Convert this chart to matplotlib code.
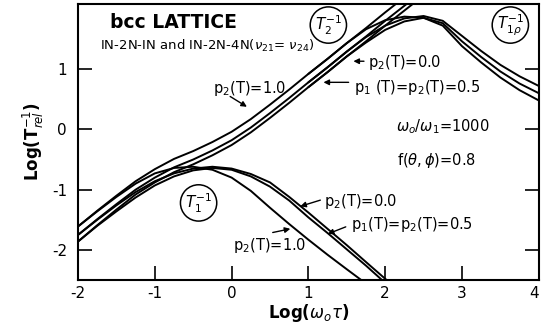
import numpy as np
import matplotlib
matplotlib.use("Agg")
import matplotlib.pyplot as plt

plt.rcParams["font.family"] = ["DejaVu Sans"]
plt.rcParams["axes.unicode_minus"] = False

# --------------------------------------------------
# Relaxation rates, log10 scale
# --------------------------------------------------

# T2^-1 branch (also T1rho^-1 at low omega*tau)
t2_x_p10 = [-2.0, -1.75, -1.5, -1.25, -1.0, -0.75, -0.5, -0.25, 0.0, 0.25,
            0.5, 0.75, 1.0, 1.25, 1.5, 1.75, 2.0, 2.2]
t2_y_p10 = [-1.61, -1.35, -1.1, -0.86, -0.66, -0.49, -0.36, -0.21, -0.04, 0.17,
            0.41, 0.66, 0.92, 1.17, 1.43, 1.68, 1.94, 2.14]

t2_x_p00 = [-2.0, -1.75, -1.5, -1.25, -1.0, -0.75, -0.5, -0.25, 0.0, 0.25,
            0.5, 0.75, 1.0, 1.25, 1.5, 1.75, 2.0, 2.35]
t2_y_p00 = [-1.75, -1.49, -1.24, -1.0, -0.8, -0.63, -0.5, -0.35, -0.18, 0.03,
            0.27, 0.52, 0.78, 1.03, 1.29, 1.54, 1.8, 2.15]

t2_x_p05 = [-2.0, -1.75, -1.5, -1.25, -1.0, -0.75, -0.5, -0.25, 0.0, 0.25,
            0.5, 0.75, 1.0, 1.25, 1.5, 1.75, 2.0, 2.45]
t2_y_p05 = [-1.86, -1.59, -1.33, -1.08, -0.88, -0.71, -0.58, -0.43, -0.26, -0.05,
            0.19, 0.44, 0.7, 0.95, 1.21, 1.46, 1.72, 2.17]

# T1rho^-1 branch, leaves T2 near log(w tau) = 1.5
t1r_x = [1.0, 1.25, 1.5, 1.75, 2.0, 2.25, 2.5, 2.75, 3.0, 3.25, 3.5, 3.75, 4.0]
t1r_y_p10 = [0.92, 1.17, 1.43, 1.66, 1.81, 1.87, 1.85, 1.72, 1.38, 1.11, 0.86, 0.65, 0.48]
t1r_y_p00 = [0.78, 1.03, 1.29, 1.53, 1.72, 1.84, 1.88, 1.8, 1.55, 1.3, 1.07, 0.88, 0.72]
t1r_y_p05 = [0.7, 0.95, 1.21, 1.44, 1.65, 1.79, 1.85, 1.76, 1.46, 1.2, 0.96, 0.76, 0.6]

# T1^-1 branch
t1_x_p10 = [-2.0, -1.75, -1.5, -1.25, -1.0, -0.75, -0.5, -0.25, 0.0, 0.25,
            0.5, 0.75, 1.0, 1.25, 1.5, 1.69]
t1_y_p10 = [-1.61, -1.36, -1.12, -0.9, -0.73, -0.64, -0.62, -0.67, -0.8, -1.02,
            -1.3, -1.57, -1.83, -2.08, -2.32, -2.5]

t1_x_p00 = [-2.0, -1.75, -1.5, -1.25, -1.0, -0.75, -0.5, -0.25, 0.0, 0.25,
            0.5, 0.75, 1.0, 1.25, 1.5, 1.75, 2.02]
t1_y_p00 = [-1.75, -1.5, -1.26, -1.04, -0.86, -0.73, -0.65, -0.62, -0.65, -0.74,
            -0.88, -1.12, -1.38, -1.65, -1.92, -2.2, -2.5]

t1_x_p05 = [-2.0, -1.75, -1.5, -1.25, -1.0, -0.75, -0.5, -0.25, 0.0, 0.25,
            0.5, 0.75, 1.0, 1.25, 1.5, 1.75, 1.96]
t1_y_p05 = [-1.86, -1.6, -1.36, -1.13, -0.93, -0.78, -0.68, -0.64, -0.67, -0.78,
            -0.95, -1.18, -1.46, -1.72, -1.99, -2.26, -2.5]

x_ticks = [-2, -1, 0, 1, 2, 3, 4]
y_ticks = [-2, -1, 0, 1]

# --------------------------------------------------
# Figure
# --------------------------------------------------

fig = plt.figure(figsize=(5.42, 3.28), dpi=100)
ax = fig.add_axes([0.144, 0.146, 0.85, 0.842])

curves = [
    (t2_x_p10, t2_y_p10), (t2_x_p00, t2_y_p00), (t2_x_p05, t2_y_p05),
    (t1r_x, t1r_y_p10), (t1r_x, t1r_y_p00), (t1r_x, t1r_y_p05),
    (t1_x_p10, t1_y_p10), (t1_x_p00, t1_y_p00), (t1_x_p05, t1_y_p05),
]

for xs, ys in curves:
    ax.plot(xs, ys, color="black", linewidth=1.4, solid_capstyle="round")

ax.set_xlim(-2, 4)
ax.set_ylim(-2.5, 2.08)

ax.set_xticks(x_ticks)
ax.set_yticks(y_ticks)
ax.set_xticklabels([str(t) for t in x_ticks])
ax.set_yticklabels([str(t) for t in y_ticks])

# last x label sits flush with the right spine
ax.get_xticklabels()[-1].set_horizontalalignment("right")

ax.tick_params(direction="in", length=10, width=1.2, labelsize=11,
               right=True, top=False)
ax.tick_params(axis="y", pad=8)
ax.tick_params(axis="x", pad=4)

for side in ax.spines.values():
    side.set_linewidth(1.5)

ax.set_xlabel(r"Log($\omega_o\tau$)", fontsize=12, fontweight="bold", labelpad=1)
ax.set_ylabel(r"Log(T$_{rel}^{-1}$)", fontsize=12, fontweight="bold", labelpad=4)

# --------------------------------------------------
# Annotations
# --------------------------------------------------

ax.text(-1.58, 1.68, "bcc LATTICE", fontsize=13.5, fontweight="bold")
ax.text(-1.71, 1.31, r"IN-2N-IN and IN-2N-4N($\nu_{21}$= $\nu_{24}$)", fontsize=9.5)

circ = dict(boxstyle="circle,pad=0.3", fc="none", ec="black", lw=1.1)
ax.text(1.26, 1.73, r"$T_2^{-1}$", fontsize=11, ha="center", va="center", bbox=circ)
ax.text(3.63, 1.73, r"$T_{1\rho}^{-1}$", fontsize=11, ha="center", va="center", bbox=circ)
ax.text(-0.43, -1.22, r"$T_1^{-1}$", fontsize=11, ha="center", va="center", bbox=circ)

ax.text(2.14, -0.04, r"$\omega_o/\omega_1$=1000", fontsize=10.5)
ax.text(2.15, -0.59, r"f($\theta,\phi$)=0.8", fontsize=10.5)

arrow = dict(arrowstyle="-|>", color="black", lw=1.0, mutation_scale=8)

# upper group
ax.text(-0.24, 0.6, r"p$_2$(T)=1.0", fontsize=10.5)
ax.annotate("", xy=(0.23, 0.35), xytext=(-0.05, 0.57), arrowprops=arrow)

ax.text(1.77, 1.03, r"p$_2$(T)=0.0", fontsize=10.5)
ax.annotate("", xy=(1.55, 1.13), xytext=(1.76, 1.13), arrowprops=arrow)

ax.text(1.59, 0.62, r"p$_1$ (T)=p$_2$(T)=0.5", fontsize=10.5)
ax.annotate("", xy=(1.16, 0.78), xytext=(1.56, 0.78), arrowprops=arrow)

# lower group
ax.text(1.2, -1.27, r"p$_2$(T)=0.0", fontsize=10.5)
ax.annotate("", xy=(0.86, -1.29), xytext=(1.19, -1.16), arrowprops=arrow)

ax.text(1.55, -1.65, r"p$_1$(T)=p$_2$(T)=0.5", fontsize=10.5)
ax.annotate("", xy=(1.22, -1.75), xytext=(1.52, -1.6), arrowprops=arrow)

ax.text(0.02, -2.0, r"p$_2$(T)=1.0", fontsize=10.5)
ax.annotate("", xy=(0.8, -1.64), xytext=(0.5, -1.72), arrowprops=arrow)

fig.savefig("out.png", dpi=100)
